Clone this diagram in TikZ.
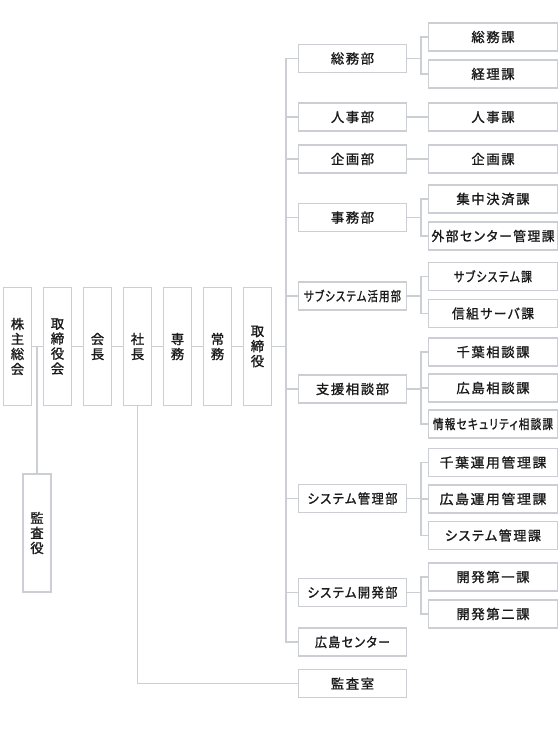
\documentclass[tikz,border=0pt]{standalone}
\usepackage{fontspec}
\usepackage{graphicx}
\newfontfamily\jp[RawFeature=+palt,LetterSpace=12,FakeBold=1.3]{Noto Sans CJK JP}
\newfontfamily\jpv[FakeBold=1.3]{Noto Sans CJK JP}
\newcommand\fitw[2]{\resizebox{#1pt}{\height}{#2}}
\definecolor{lnc}{HTML}{CBCED2}
\definecolor{txc}{HTML}{1A1A1A}
\tikzset{
  bx/.style={draw=lnc, line width=1.3pt, fill=white, inner sep=0pt, text=txc},
  vbox/.style={bx, minimum width=21pt, minimum height=88.5pt, align=center,
    font=\jpv\fontsize{10}{11.25}\selectfont},
  dept/.style={bx, minimum width=81pt, minimum height=21pt, font=\jp\fontsize{10}{12}\selectfont},
  sect/.style={bx, minimum width=96.75pt, minimum height=21pt, font=\jp\fontsize{10}{12}\selectfont},
  conn/.style={draw=lnc, line width=1.3pt}
}
\begin{document}
\begin{tikzpicture}[x=0.75pt,y=-0.75pt]
\useasboundingbox (0,0) rectangle (560,739);
% chain
\node[vbox] (kabu) at (17.5,346.5) {株\\主\\総\\会};
\node[vbox] (tori) at (57.5,346.5) {取\\締\\役\\会};
\node[vbox] (kaicho) at (97.5,346.5) {会\\長};
\node[vbox] (shacho) at (137.5,346.5) {社\\長};
\node[vbox] (senmu) at (177.5,346.5) {専\\務};
\node[vbox] (jomu) at (217.5,346.5) {常\\務};
\node[vbox] (torisi) at (257.5,346.5) {取\\締\\役};
\node[vbox] (kansa) at (37,533) {監\\査\\役};
% departments
\node[dept] (d1) at (352.5,58.5) {総務部};
\node[dept] (d2) at (352.5,117) {人事部};
\node[dept] (d3) at (352.5,159) {企画部};
\node[dept] (d4) at (352.5,217.5) {事務部};
\node[dept] (d5) at (352.5,296) {\fitw{72.75}{サブシステム活用部}};
\node[dept] (d6) at (352.5,389) {支援相談部};
\node[dept] (d7) at (352.5,498.5) {\fitw{67.5}{システム管理部}};
\node[dept] (d8) at (352.5,592.5) {\fitw{67.5}{システム開発部}};
\node[dept] (d9) at (352.5,642) {\fitw{56.25}{広島センター}};
\node[dept] (d10) at (352.5,683.5) {監査室};
% sections
\node[sect] (s11) at (493,37) {総務課};
\node[sect] (s12) at (493,74) {経理課};
\node[sect] (s21) at (493,117) {人事課};
\node[sect] (s31) at (493,159) {企画課};
\node[sect] (s41) at (493,199) {集中決済課};
\node[sect] (s42) at (493,236) {\fitw{92.25}{外部センター管理課}};
\node[sect] (s51) at (493,276.5) {\fitw{58.5}{サブシステム課}};
\node[sect] (s52) at (493,313.5) {\fitw{61.5}{信組サーバ課}};
\node[sect] (s61) at (493,352) {千葉相談課};
\node[sect] (s62) at (493,388) {広島相談課};
\node[sect] (s63) at (493,424) {\fitw{90}{情報セキュリティ相談課}};
\node[sect] (s71) at (493,462.5) {\fitw{80}{千葉運用管理課}};
\node[sect] (s72) at (493,499) {\fitw{80}{広島運用管理課}};
\node[sect] (s73) at (493,535.5) {\fitw{72}{システム管理課}};
\node[sect] (s81) at (493,577) {開発第一課};
\node[sect] (s82) at (493,614) {開発第二課};
% chain connectors
\draw[conn] (kabu.east) -- (tori.west);
\draw[conn] (tori.east) -- (kaicho.west);
\draw[conn] (kaicho.east) -- (shacho.west);
\draw[conn] (shacho.east) -- (senmu.west);
\draw[conn] (senmu.east) -- (jomu.west);
\draw[conn] (jomu.east) -- (torisi.west);
\draw[conn] (kansa.north) |- (kabu.east);
\draw[conn] (shacho.south) |- (d10.west);
% main trunk
\foreach \d in {d1,d2,d3,d4,d5,d6,d7,d8,d9}
  \draw[conn] (\d.west) -- ++(-12,0) |- (torisi.east);
% brackets
\foreach \s/\d in {s11/d1,s12/d1,s21/d2,s31/d3,s41/d4,s42/d4,s51/d5,s52/d5,
  s61/d6,s62/d6,s63/d6,s71/d7,s72/d7,s73/d7,s81/d8,s82/d8}
  \draw[conn] (\s.west) -- ++(-7,0) |- (\d.east);
\end{tikzpicture}
\end{document}
